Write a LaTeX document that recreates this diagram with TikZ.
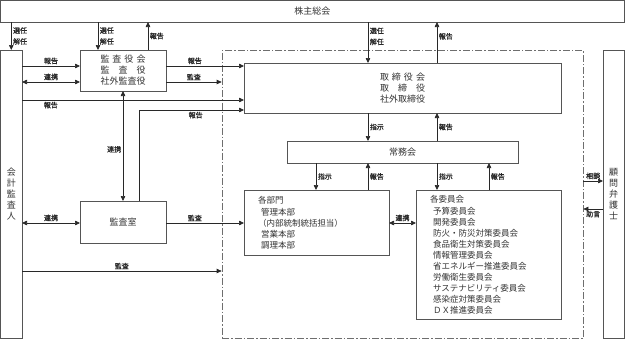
\documentclass[tikz,border=0pt]{standalone}
\usepackage{fontspec}
\newfontfamily\jpfont{Noto Sans CJK JP}
\newfontfamily\jplbl{Noto Sans CJK JP}[FakeBold=1.2]
\usepackage{tikz}
\usetikzlibrary{arrows.meta,positioning}
\definecolor{boxline}{RGB}{85,85,85}
\definecolor{arrline}{RGB}{40,40,40}
\definecolor{arealine}{RGB}{110,110,110}

% spread a short title to the width of five characters
\newcommand{\kintou}[1]{\makebox[45pt][s]{#1}}

\begin{document}
\begin{tikzpicture}[
  x=1pt,y=-1pt,
  font=\jpfont\fontsize{9}{11}\selectfont,
  box/.style={draw=boxline,line width=0.9pt,fill=white,inner sep=0pt,outer sep=0pt,align=center,text=black!80},
  lst/.style={box,align=left,inner xsep=14pt,text width=117pt,font=\jpfont\fontsize{8.5}{11}\selectfont},
  lbl/.style={font=\jplbl\fontsize{7}{11}\selectfont,inner sep=1.5pt,align=left},
  arr/.style={-{Triangle[length=5pt,width=4.5pt]},line width=0.7pt,arrline},
  dbl/.style={{Triangle[length=5pt,width=4.5pt]}-{Triangle[length=5pt,width=4.5pt]},line width=0.7pt,arrline},
]
\useasboundingbox (0,0) rectangle (625,340);

% business area (dash-dot frame)
\node[draw=arealine,line width=0.7pt,dash pattern=on 7pt off 2pt on 1.5pt off 2pt,
  minimum width=361pt,minimum height=288pt,inner sep=0pt] (gyomu) at (402.5,194) {};

% boxes
\node[box,minimum width=623.5pt,minimum height=22pt] (sokai) at (312.25,11) {株主総会};
\node[box,minimum width=21.5pt,minimum height=288pt] (kaikei) at (11.25,194) {会\\計\\監\\査\\人};
\node[box,minimum width=21pt,minimum height=288pt] (komon) at (613.5,194) {顧\\問\\弁\\護\\士};
\node[box,minimum width=86pt,minimum height=41pt] (kansayaku) at (123,70.5)
  {\kintou{監\hfill 査\hfill 役\hfill 会}\\\kintou{監\hfill 査\hfill 役}\\社外監査役};
\node[box,minimum width=317pt,minimum height=50pt] (torishimari) at (402.5,88)
  {\kintou{取\hfill 締\hfill 役\hfill 会}\\\kintou{取\hfill 締\hfill 役}\\社外取締役};
\node[box,minimum width=231pt,minimum height=22pt] (jomu) at (402.5,152) {常務会};
\node[box,minimum width=86pt,minimum height=42pt] (kansashitsu) at (123,222) {監査室};
\node[lst,minimum height=65pt] (kakubumon) at (316.5,222.5)
  {各部門\\[1pt]\hspace*{3pt}管理本部\\（内部統制統括担当）\\\hspace*{3pt}営業本部\\\hspace*{3pt}調理本部};
\node[lst,minimum height=129pt] (iinkai) at (488.5,254.5)
  {各委員会\\[1pt]\hspace*{3pt}予算委員会\\\hspace*{3pt}開発委員会\\\hspace*{3pt}防火・防災対策委員会\\
   \hspace*{3pt}食品衛生対策委員会\\\hspace*{3pt}情報管理委員会\\\hspace*{3pt}省エネルギー推進委員会\\
   \hspace*{3pt}労働衛生委員会\\\hspace*{3pt}サステナビリティ委員会\\\hspace*{3pt}感染症対策委員会\\
   \hspace*{3pt}ＤＸ推進委員会};

% columns and rows of the connectors
\coordinate (xa) at (98,0);
\coordinate (xb) at (148,0);
\coordinate (xc) at (368,0);
\coordinate (xd) at (437,0);
\coordinate (xe) at (316,0);
\coordinate (xf) at (489,0);
\coordinate (xg) at (139,0);
\coordinate (ya) at (0,66);
\coordinate (yb) at (0,82);
\coordinate (yc) at (0,100);
\coordinate (yd) at (0,110);
\coordinate (ye) at (0,223);
\coordinate (yf) at (0,271);
\coordinate (yg) at (0,181);
\coordinate (yh) at (0,209);

% general meeting
\draw[arr] (sokai.south -| kaikei) -- (kaikei.north) node[lbl,midway,right]{選任\\解任};
\draw[arr] (sokai.south -| xa) -- (kansayaku.north -| xa) node[lbl,midway,right]{選任\\解任};
\draw[arr] (kansayaku.north -| xb) -- (sokai.south -| xb) node[lbl,midway,right]{報告};
\draw[arr] (sokai.south -| xc) -- (torishimari.north -| xc) node[lbl,pos=0.35,right]{選任\\解任};
\draw[arr] (torishimari.north -| xd) -- (sokai.south -| xd) node[lbl,pos=0.65,right]{報告};

% auditors
\draw[arr] (kaikei.east |- ya) -- (kansayaku.west |- ya) node[lbl,midway,above]{報告};
\draw[dbl] (kaikei.east |- yb) -- (kansayaku.west |- yb) node[lbl,midway,above]{連携};
\draw[arr] (kaikei.east |- yc) -- (torishimari.west |- yc) node[lbl,pos=0.13,below]{報告};
\draw[arr] (kansayaku.east |- ya) -- (torishimari.west |- ya) node[lbl,pos=0.37,above]{報告};
\draw[arr] (kansayaku.east |- yb) -- (gyomu.west |- yb) node[lbl,midway,above]{監査};
\draw[dbl] (kansayaku.south) -- (kansashitsu.north) node[lbl,pos=0.53,left]{連携};
\draw[arr] (kansashitsu.north -| xg) |- (torishimari.west |- yd) node[lbl,pos=0.77,below]{報告};
\draw[dbl] (kaikei.east |- ye) -- (kansashitsu.west |- ye) node[lbl,midway,above]{連携};
\draw[arr] (kansashitsu.east |- ye) -- (kakubumon.west |- ye) node[lbl,pos=0.37,above]{監査};
\draw[arr] (kaikei.east |- yf) -- (gyomu.west |- yf) node[lbl,midway,above]{監査};

% board and executive committee
\draw[arr] (torishimari.south -| xc) -- (jomu.north -| xc) node[lbl,midway,right]{指示};
\draw[arr] (jomu.north -| xd) -- (torishimari.south -| xd) node[lbl,midway,right]{報告};
\draw[arr] (jomu.south -| xe) -- (kakubumon.north -| xe) node[lbl,midway,right]{指示};
\draw[arr] (kakubumon.north -| xc) -- (jomu.south -| xc) node[lbl,midway,right]{報告};
\draw[arr] (jomu.south -| xd) -- (iinkai.north -| xd) node[lbl,midway,right]{指示};
\draw[arr] (iinkai.north -| xf) -- (jomu.south -| xf) node[lbl,midway,right]{報告};
\draw[dbl] (kakubumon.east |- ye) -- (iinkai.west |- ye) node[lbl,midway,above]{連携};

% legal counsel
\draw[arr] (gyomu.east |- yg) -- (komon.west |- yg) node[lbl,midway,above]{相談};
\draw[arr] (komon.west |- yh) -- (gyomu.east |- yh) node[lbl,midway,below]{助言};
\end{tikzpicture}
\end{document}
